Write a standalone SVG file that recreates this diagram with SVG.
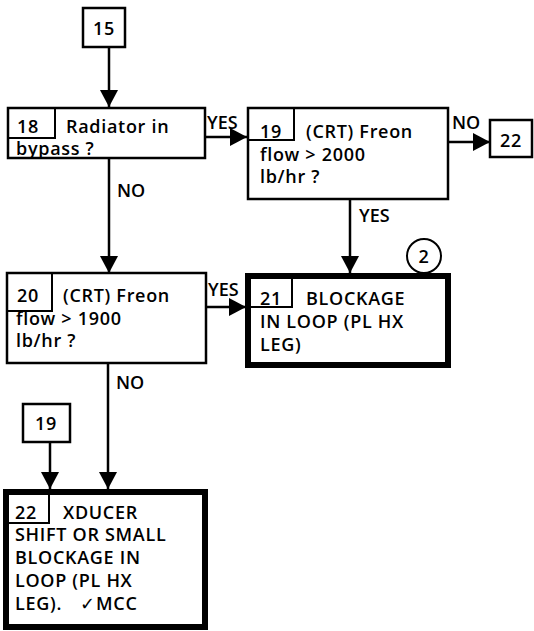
<svg xmlns="http://www.w3.org/2000/svg" width="534" height="631" viewBox="0 0 534 631">
<defs>
<style>
.bx{fill:#fff;stroke:#000;stroke-width:2.5}
.bk{fill:#fff;stroke:#000;stroke-width:6}
.tab{fill:none;stroke:#000;stroke-width:2}
.ln{fill:none;stroke:#000;stroke-width:2.5}
text{font-family:"Open Sans","Liberation Sans",sans-serif;font-size:18px;font-weight:600;fill:#000;letter-spacing:0.7px}
.c{text-anchor:middle}
.lb{letter-spacing:0}
</style>
<marker id="ah" markerWidth="17" markerHeight="18" refX="17" refY="9" orient="auto" markerUnits="userSpaceOnUse" viewBox="0 0 17 18">
<path d="M0,0 L17,9 L0,18 Z" fill="#000"/>
</marker>
</defs>
<rect width="534" height="631" fill="#fff"/>
<g id="connectors">
<line class="ln" x1="109" y1="47" x2="109" y2="107" marker-end="url(#ah)"/>
<line class="ln" x1="205" y1="137" x2="247" y2="137" marker-end="url(#ah)"/>
<text class="lb" x="207" y="129">YES</text>
<line class="ln" x1="448" y1="142" x2="490" y2="142" marker-end="url(#ah)"/>
<text class="lb" x="452" y="129">NO</text>
<line class="ln" x1="350" y1="199" x2="350" y2="273" marker-end="url(#ah)"/>
<text class="lb" x="359" y="222">YES</text>
<line class="ln" x1="109" y1="158" x2="109" y2="273" marker-end="url(#ah)"/>
<text class="lb" x="117" y="197">NO</text>
<line class="ln" x1="206" y1="307" x2="246" y2="307" marker-end="url(#ah)"/>
<text class="lb" x="208" y="296">YES</text>
<line class="ln" x1="108" y1="363" x2="108" y2="489" marker-end="url(#ah)"/>
<text class="lb" x="116" y="389">NO</text>
<line class="ln" x1="50" y1="442" x2="50" y2="489" marker-end="url(#ah)"/>
</g>
<g id="n15">
<rect class="bx" x="83" y="8" width="42" height="39"/>
<text class="c" x="104" y="35">15</text>
</g>
<g id="n18">
<rect class="bx" x="8" y="108" width="197" height="50"/>
<polyline class="tab" points="55,108 55,138 8,138"/>
<text x="17" y="133">18</text>
<text x="66" y="133">Radiator in</text>
<text x="16" y="155">bypass ?</text>
</g>
<g id="n19">
<rect class="bx" x="248" y="108" width="200" height="91"/>
<polyline class="tab" points="294,108 294,140 248,140"/>
<text x="260" y="138">19</text>
<text x="306" y="138">(CRT) Freon</text>
<text x="260" y="161">flow &gt; 2000</text>
<text x="260" y="183">lb/hr ?</text>
</g>
<g id="n22a">
<rect class="bx" x="490" y="120" width="42" height="37"/>
<text class="c" x="511" y="147">22</text>
</g>
<g id="n20">
<rect class="bx" x="7" y="273" width="199" height="90"/>
<polyline class="tab" points="52,273 52,311 7,311"/>
<text x="17" y="302">20</text>
<text x="63" y="302">(CRT) Freon</text>
<text x="16" y="325">flow &gt; 1900</text>
<text x="16" y="347">lb/hr ?</text>
</g>
<g id="n21">
<rect class="bk" x="248" y="276" width="200" height="89"/>
<polyline class="tab" points="292,276 292,307 248,307"/>
<text x="260" y="305">21</text>
<text x="306" y="305">BLOCKAGE</text>
<text x="260" y="328">IN LOOP (PL HX</text>
<text x="260" y="351">LEG)</text>
</g>
<g id="c2">
<circle cx="424" cy="256" r="17" fill="#fff" stroke="#000" stroke-width="2"/>
<text class="c" x="424" y="263">2</text>
</g>
<g id="n19b">
<rect class="bx" x="23" y="404" width="47" height="38"/>
<text class="c" x="46" y="430">19</text>
</g>
<g id="n22">
<rect class="bk" x="6" y="492" width="199" height="135"/>
<polyline class="tab" points="49,492 49,523 6,523"/>
<text x="15" y="519">22</text>
<text x="63" y="519">XDUCER</text>
<text x="15" y="541">SHIFT OR SMALL</text>
<text x="15" y="564">BLOCKAGE IN</text>
<text x="15" y="587">LOOP (PL HX</text>
<text x="15" y="610">LEG).<tspan x="80" style="font-family:'DejaVu Sans',sans-serif;font-weight:bold">✓</tspan><tspan x="96">MCC</tspan></text>
</g>
</svg>
